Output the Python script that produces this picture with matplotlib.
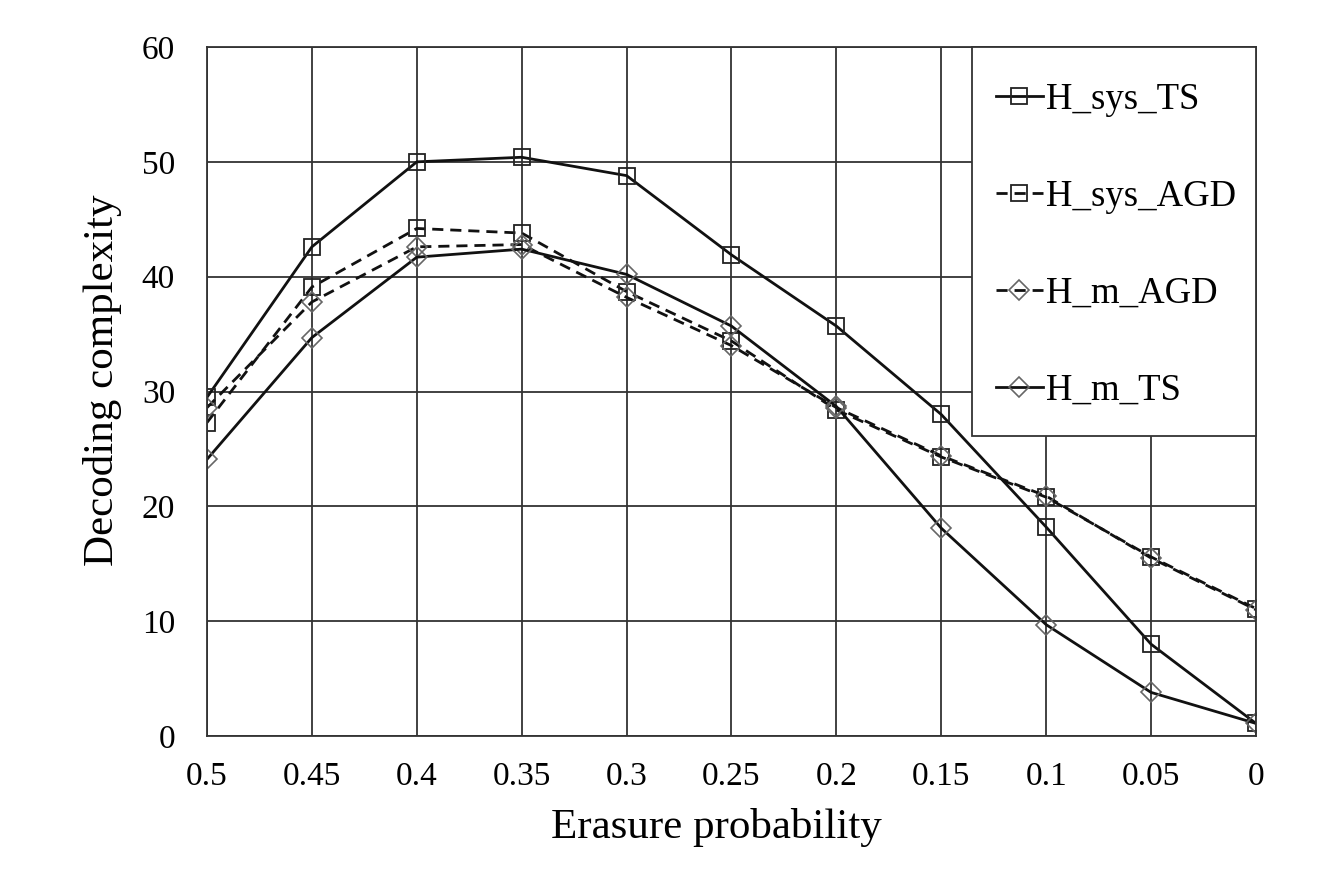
import matplotlib
matplotlib.use("Agg")
import matplotlib.pyplot as plt
from matplotlib.patches import Rectangle

plt.rcParams['font.family'] = ['Liberation Serif', 'DejaVu Serif']

erasure = [0.5, 0.45, 0.4, 0.35, 0.3, 0.25, 0.2, 0.15, 0.1, 0.05, 0.0]
h_sys_ts = [29.5, 42.6, 50.0, 50.4, 48.8, 41.9, 35.7, 28.0, 18.2, 8.0, 1.1]
h_sys_agd = [27.3, 39.1, 44.2, 43.8, 38.7, 34.4, 28.4, 24.3, 20.8, 15.6, 11.1]
h_m_agd = [28.6, 37.8, 42.6, 42.8, 38.2, 34.0, 28.6, 24.4, 20.9, 15.5, 11.0]
h_m_ts = [24.1, 34.7, 41.7, 42.4, 40.2, 35.7, 28.7, 18.1, 9.7, 3.8, 1.1]

fig = plt.figure(figsize=(13.33, 8.69), dpi=100)
ax = fig.add_axes([0.1553, 0.1530, 0.7869, 0.7929])

sq = dict(marker='s', markersize=12, markerfacecolor='none',
          markeredgecolor='#222222', markeredgewidth=1.3)
dm = dict(marker='D', markersize=10, markerfacecolor='none',
          markeredgecolor='#666666', markeredgewidth=1.2)

ax.plot(erasure, h_sys_ts, '-', color='#111111', linewidth=2.0, label='H_sys_TS', **sq)
ax.plot(erasure, h_sys_agd, '--', color='#111111', linewidth=2.0, dashes=(4, 2.5),
        label='H_sys_AGD', **sq)
ax.plot(erasure, h_m_agd, '--', color='#111111', linewidth=2.0, dashes=(4, 2.5),
        label='H_m_AGD', **dm)
ax.plot(erasure, h_m_ts, '-', color='#111111', linewidth=2.0, label='H_m_TS', **dm)

ax.set_xlim(0.5, 0)
ax.set_ylim(0, 60)
ax.set_xticks(erasure)
ax.set_xticklabels(['0.5', '0.45', '0.4', '0.35', '0.3', '0.25', '0.2',
                    '0.15', '0.1', '0.05', '0'])
ax.set_yticks(range(0, 61, 10))
ax.tick_params(axis='both', length=0, labelsize=24)
ax.tick_params(axis='y', pad=23)
ax.tick_params(axis='x', pad=18)
ax.grid(True, color='#333333', linewidth=1.3)
for s in ax.spines.values():
    s.set_color('#333333')
    s.set_linewidth(1.3)

ax.set_xlabel('Erasure probability', fontsize=31, labelpad=12)
ax.set_ylabel('Decoding complexity', fontsize=31, labelpad=14)
ax.xaxis.label.set_x(0.486)
ax.yaxis.label.set_y(0.517)

# legend frame drawn separately so its box matches the original
ax.add_patch(Rectangle((0.7293, 0.4354), 0.2707, 0.5646, transform=ax.transAxes,
                       facecolor='white', edgecolor='#333333', linewidth=1.3,
                       zorder=5, clip_on=False))
leg = ax.legend(loc='upper left', bbox_to_anchor=(0.752, 0.948), borderaxespad=0,
                borderpad=0, frameon=False, fontsize=26.5, handlelength=1.28,
                handletextpad=0.08, labelspacing=1.69)
leg.set_zorder(6)

fig.savefig('out.png', dpi=100)
